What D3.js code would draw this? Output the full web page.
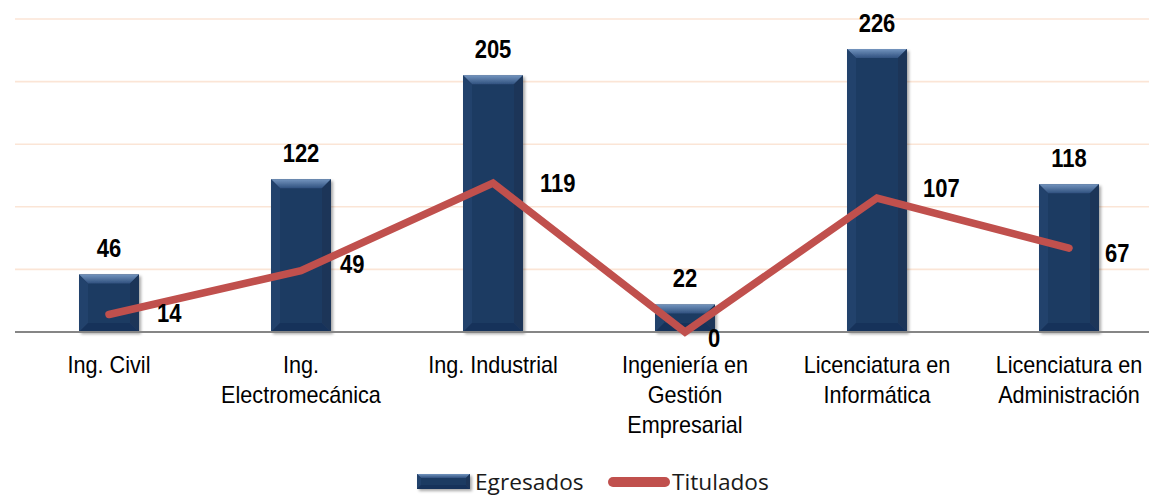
<!DOCTYPE html>
<html>
<head>
<meta charset="utf-8">
<script src="https://cdn.jsdelivr.net/npm/d3@7"></script>
<style>
  html, body { margin: 0; padding: 0; background: #fff; }
  svg { display: block; }
</style>
</head>
<body>
<div id="chart"></div>
<script>
// data
const categories = [
    ["Ing. Civil"],
    ["Ing.", "Electromecánica"],
    ["Ing. Industrial"],
    ["Ingeniería en", "Gestión", "Empresarial"],
    ["Licenciatura en", "Informática"],
    ["Licenciatura en", "Administración"]
];
const egresados = [46, 122, 205, 22, 226, 118];
const titulados = [14, 49, 119, 0, 107, 67];
const gridTicks = [50, 100, 150, 200, 250];

// hand-placed label nudges for the Titulados labels (dx, dy from the point)
const tituladoLabelNudge = [[48, 8], [39, 2], [47, 9], [23, 15], [46, -1], [36, 14]];

const W = 1149, H = 496;
const baseY = 332;
const barColor = "#1E3A62";
const lineColor = "#C0504D";

const svg = d3.select("#chart").append("svg")
    .attr("width", W)
    .attr("height", H);

const defs = svg.append("defs");

const topGrad = defs.append("linearGradient")
    .attr("id", "bevelTop")
    .attr("x1", 0).attr("y1", 0).attr("x2", 0).attr("y2", 1);
topGrad.append("stop").attr("offset", "0%").attr("stop-color", "#7394BE");
topGrad.append("stop").attr("offset", "100%").attr("stop-color", "#30517F");

const shadow = defs.append("filter")
    .attr("id", "barShadow")
    .attr("x", "-20%").attr("y", "-20%")
    .attr("width", "150%").attr("height", "150%");
shadow.append("feDropShadow")
    .attr("dx", 2).attr("dy", 2)
    .attr("stdDeviation", 1.6)
    .attr("flood-color", "#000")
    .attr("flood-opacity", 0.35);

// scales
const x = d3.scaleBand()
    .domain(d3.range(categories.length))
    .range([13, 1165])
    .paddingInner(0.6875)
    .paddingOuter(0.34375);

const y = d3.scaleLinear()
    .domain([0, 250])
    .range([baseY, baseY - 313]);

// gridlines
svg.append("g")
    .selectAll("line")
    .data(gridTicks)
    .join("line")
    .attr("x1", 15)
    .attr("x2", W)
    .attr("y1", d => y(d))
    .attr("y2", d => y(d))
    .attr("stroke", "#FBE5D6")
    .attr("stroke-width", 1.6);

// beveled bar, drawn as a few polygons
function bevelBar(g, bx, by, bw, bh, b) {
    b = Math.min(b, bh / 2, bw / 2);
    g.append("rect")
        .attr("x", bx).attr("y", by)
        .attr("width", bw).attr("height", bh)
        .attr("fill", barColor);
    const faces = [
        { pts: [[bx, by], [bx + bw, by], [bx + bw - b, by + b], [bx + b, by + b]], fill: "url(#bevelTop)" },
        { pts: [[bx, by], [bx + b, by + b], [bx + b, by + bh - b], [bx, by + bh]], fill: "#24426C" },
        { pts: [[bx + bw, by], [bx + bw - b, by + b], [bx + bw - b, by + bh - b], [bx + bw, by + bh]], fill: "#1A3458" },
        { pts: [[bx, by + bh], [bx + b, by + bh - b], [bx + bw - b, by + bh - b], [bx + bw, by + bh]], fill: "#19325A" }
    ];
    faces.forEach(f => {
        g.append("polygon")
            .attr("points", f.pts.map(p => p.join(",")).join(" "))
            .attr("fill", f.fill);
    });
}

const barLayer = svg.append("g").attr("filter", "url(#barShadow)");
egresados.forEach((v, i) => {
    const g = barLayer.append("g");
    bevelBar(g, x(i), y(v), x.bandwidth(), y(0) - y(v), 9);
});

// baseline
svg.append("line")
    .attr("x1", 15).attr("x2", W)
    .attr("y1", baseY).attr("y2", baseY)
    .attr("stroke", "#868686")
    .attr("stroke-width", 2);

// Titulados line
const cx = i => x(i) + x.bandwidth() / 2;
svg.append("path")
    .datum(titulados)
    .attr("d", d3.line().x((d, i) => cx(i)).y(d => y(d)))
    .attr("fill", "none")
    .attr("stroke", lineColor)
    .attr("stroke-width", 7.5)
    .attr("stroke-linecap", "round")
    .attr("stroke-linejoin", "miter");

// text helper: narrow the font a bit like the original rendering
function addText(g, tx, ty, str, opts) {
    return g.append("text")
        .attr("transform", `translate(${tx},${ty}) scale(${opts.sx || 1},1)`)
        .attr("text-anchor", opts.anchor || "start")
        .attr("font-family", opts.family || "'Liberation Sans', Arial, sans-serif")
        .attr("font-size", opts.size)
        .attr("font-weight", opts.weight || "normal")
        .attr("fill", opts.fill || "#000")
        .text(str);
}

const labelLayer = svg.append("g");

// Egresados labels
egresados.forEach((v, i) => {
    addText(labelLayer, cx(i), y(v) - 17, v, { anchor: "middle", size: 25, weight: "bold", sx: 0.88 });
});

// Titulados labels
titulados.forEach((v, i) => {
    const [dx, dy] = tituladoLabelNudge[i];
    addText(labelLayer, cx(i) + dx, y(v) + dy, v, { size: 25, weight: "bold", sx: 0.88 });
});

// category labels
categories.forEach((lines, i) => {
    lines.forEach((t, k) => {
        addText(labelLayer, cx(i), 373 + k * 30, t, { anchor: "middle", size: 23, sx: 0.94 });
    });
});

// legend
const legend = svg.append("g");
const legBar = legend.append("g").attr("filter", "url(#barShadow)");
bevelBar(legBar, 417, 474, 53, 15, 4);
addText(legend, 475, 490, "Egresados", { size: 21, sx: 1.08, family: "'Open Sans', sans-serif", fill: "#1a1a1a" });

legend.append("line")
    .attr("x1", 613).attr("x2", 665)
    .attr("y1", 482).attr("y2", 482)
    .attr("stroke", lineColor)
    .attr("stroke-width", 10)
    .attr("stroke-linecap", "round");
addText(legend, 672, 490, "Titulados", { size: 21, sx: 1.08, family: "'Open Sans', sans-serif", fill: "#1a1a1a" });
</script>
</body>
</html>
